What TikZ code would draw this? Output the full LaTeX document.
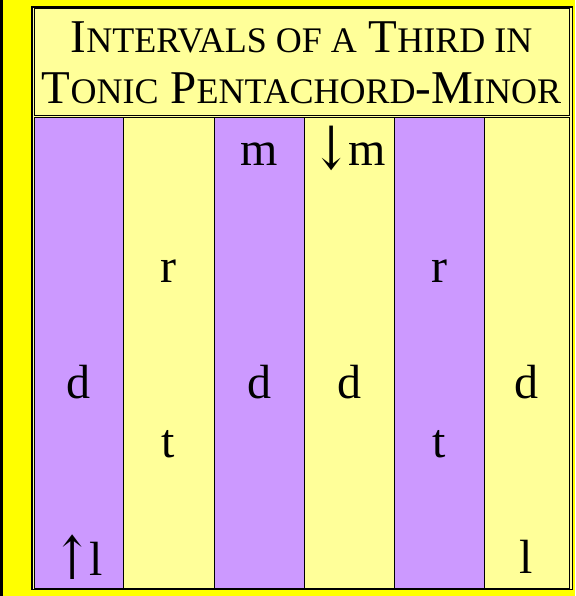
\documentclass[tikz,border=0pt]{standalone}
\usepackage{fontspec}
\setmainfont{Liberation Serif}
\newfontfamily\arrowfont{DejaVu Serif}
\usetikzlibrary{positioning}

\definecolor{lilac}{HTML}{CC99FF}
\definecolor{butter}{HTML}{FFFF99}
\definecolor{canary}{HTML}{FFFF00}

\newcommand{\headsc}[1]{{\fontsize{36}{51}\selectfont #1}}
\newcommand{\tallarrow}[1]{\raisebox{-4pt}{\scalebox{0.95}[1.25]{\arrowfont #1}}\kern-2pt}

\begin{document}
\begin{tikzpicture}[
  x=1pt, y=-1pt,
  band/.style={draw, line width=1pt, fill=#1, minimum height=470pt, outer sep=0pt, inner sep=0pt},
  syl/.style={font=\fontsize{48}{50}\selectfont, anchor=base, inner sep=0pt},
  head/.style={font=\fontsize{47}{51}\selectfont, anchor=base, inner sep=0pt}
]
\useasboundingbox (0,0) rectangle (575,596);
\fill[canary] (0,0) rectangle (575,596);
\fill[black] (0,0) rectangle (3,596);

% table frame
\fill[butter] (32,7) rectangle (572.5,589.5);
\draw[line width=1.6pt] (32,7) rectangle (572.5,589.5);

% title cell
\node[draw, line width=1pt, fill=butter, anchor=north west, minimum width=535pt, minimum height=107pt, outer sep=0pt] (title) at (34,9) {};
\node[head] (head1) at (title.north |- 0,53) {I\headsc{NTERVALS OF A} T\headsc{HIRD IN}};
\node[head] (head2) at (title.north |- 0,104) {T\headsc{ONIC} P\headsc{ENTACHORD}-M\headsc{INOR}};

% columns
\node[band=lilac, minimum width=89pt, anchor=north west] (c1) at (34,118) {};
\node[band=butter, minimum width=91pt, right=0pt of c1] (c2) {};
\node[band=lilac, minimum width=90pt, right=0pt of c2] (c3) {};
\node[band=butter, minimum width=90pt, right=0pt of c3] (c4) {};
\node[band=lilac, minimum width=90pt, right=0pt of c4] (c5) {};
\node[band=butter, minimum width=85pt, right=0pt of c5] (c6) {};

% syllables
\node[syl] (d1) at (c1.north |- 0,398) {d};
\node[syl] (l1) at (c1.north |- 0,575) {\tallarrow{↑}l};
\node[syl] (r2) at (c2.north |- 0,282) {r};
\node[syl] (t2) at (c2.north |- 0,457) {t};
\node[syl] (m3) at (c3.north |- 0,165) {m};
\node[syl] (d3) at (c3.north |- 0,398) {d};
\node[syl] (m4) at (c4.north |- 0,165) {\tallarrow{↓}m};
\node[syl] (d4) at (c4.north |- 0,398) {d};
\node[syl] (r5) at (c5.north |- 0,282) {r};
\node[syl] (t5) at (c5.north |- 0,457) {t};
\node[syl] (d6) at (c6.north |- 0,398) {d};
\node[syl] (l6) at (c6.north |- 0,573) {l};
\end{tikzpicture}
\end{document}
